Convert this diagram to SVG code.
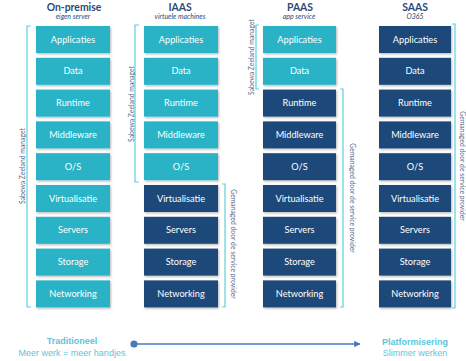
<svg xmlns="http://www.w3.org/2000/svg" width="466" height="361" viewBox="0 0 466 361">
<defs>
<filter id="sh" x="-20%" y="-30%" width="140%" height="160%">
<feDropShadow dx="1" dy="1.2" stdDeviation="1.3" flood-color="#000" flood-opacity="0.28"/>
</filter>
<marker id="arr" viewBox="0 0 10 10" refX="9" refY="5" markerWidth="4" markerHeight="4" orient="auto" markerUnits="strokeWidth">
<path d="M0,0 L10,5 L0,10 z" fill="#4a78bc"/>
</marker>
</defs>
<style>
.t rect{fill:#29b3c6;filter:url(#sh)}
.n rect{fill:#1f4879;filter:url(#sh)}
.lbl{font-family:Lato,"Open Sans",sans-serif;font-size:9.2px;fill:#fff;text-anchor:middle}
.h{font-family:Lato,"Open Sans",sans-serif;font-size:10.4px;font-weight:bold;fill:#2c4a78;text-anchor:middle}
.s{font-family:Lato,"Open Sans",sans-serif;font-size:7px;font-style:italic;fill:#2c4a78;text-anchor:middle}
.br{fill:none;stroke:#5fd0dc;stroke-width:1.2}
.bt{font-family:Lato,"Open Sans",sans-serif;font-size:6.8px;fill:#55698a;text-anchor:middle}
.bot{font-family:"Liberation Sans",Arial,sans-serif;font-size:9px;fill:#5cc6d6;text-anchor:middle}
.botb{font-family:"Liberation Sans",Arial,sans-serif;font-size:9px;font-weight:bold;fill:#5cc6d6;text-anchor:middle}
</style>
<rect width="466" height="361" fill="#fff"/>

<g id="headers">
<text class="h" x="74" y="11">On-premise</text>
<text class="s" x="73" y="19">eigen server</text>
<text class="h" x="180" y="11">IAAS</text>
<text class="s" x="180" y="19">virtuele machines</text>
<text class="h" x="300" y="11">PAAS</text>
<text class="s" x="299" y="19">app service</text>
<text class="h" x="415" y="11">SAAS</text>
<text class="s" x="415" y="19">O365</text>
</g>

<g id="col1" class="t">
<g id="c1-applicaties"><rect x="36" y="26" width="74" height="27"/><text class="lbl" x="73" y="42.5">Applicaties</text></g>
<g id="c1-data"><rect x="36" y="57.8" width="74" height="27"/><text class="lbl" x="73" y="74.3">Data</text></g>
<g id="c1-runtime"><rect x="36" y="89.6" width="74" height="27"/><text class="lbl" x="73" y="106.1">Runtime</text></g>
<g id="c1-middleware"><rect x="36" y="121.4" width="74" height="27"/><text class="lbl" x="73" y="137.9">Middleware</text></g>
<g id="c1-os"><rect x="36" y="153.2" width="74" height="27"/><text class="lbl" x="73" y="169.7">O/S</text></g>
<g id="c1-virtualisatie"><rect x="36" y="185" width="74" height="27"/><text class="lbl" x="73" y="201.5">Virtualisatie</text></g>
<g id="c1-servers"><rect x="36" y="216.8" width="74" height="27"/><text class="lbl" x="73" y="233.3">Servers</text></g>
<g id="c1-storage"><rect x="36" y="248.6" width="74" height="27"/><text class="lbl" x="73" y="265.1">Storage</text></g>
<g id="c1-networking"><rect x="36" y="280.4" width="74" height="27"/><text class="lbl" x="73" y="296.9">Networking</text></g>
</g>

<g id="col2">
<g id="c2-applicaties" class="t"><rect x="144" y="26" width="74" height="27"/><text class="lbl" x="181" y="42.5">Applicaties</text></g>
<g id="c2-data" class="t"><rect x="144" y="57.8" width="74" height="27"/><text class="lbl" x="181" y="74.3">Data</text></g>
<g id="c2-runtime" class="t"><rect x="144" y="89.6" width="74" height="27"/><text class="lbl" x="181" y="106.1">Runtime</text></g>
<g id="c2-middleware" class="t"><rect x="144" y="121.4" width="74" height="27"/><text class="lbl" x="181" y="137.9">Middleware</text></g>
<g id="c2-os" class="t"><rect x="144" y="153.2" width="74" height="27"/><text class="lbl" x="181" y="169.7">O/S</text></g>
<g id="c2-virtualisatie" class="n"><rect x="144" y="185" width="74" height="27"/><text class="lbl" x="181" y="201.5">Virtualisatie</text></g>
<g id="c2-servers" class="n"><rect x="144" y="216.8" width="74" height="27"/><text class="lbl" x="181" y="233.3">Servers</text></g>
<g id="c2-storage" class="n"><rect x="144" y="248.6" width="74" height="27"/><text class="lbl" x="181" y="265.1">Storage</text></g>
<g id="c2-networking" class="n"><rect x="144" y="280.4" width="74" height="27"/><text class="lbl" x="181" y="296.9">Networking</text></g>
</g>

<g id="col3">
<g id="c3-applicaties" class="t"><rect x="263" y="26" width="73" height="27"/><text class="lbl" x="299.5" y="42.5">Applicaties</text></g>
<g id="c3-data" class="t"><rect x="263" y="57.8" width="73" height="27"/><text class="lbl" x="299.5" y="74.3">Data</text></g>
<g id="c3-runtime" class="n"><rect x="263" y="89.6" width="73" height="27"/><text class="lbl" x="299.5" y="106.1">Runtime</text></g>
<g id="c3-middleware" class="n"><rect x="263" y="121.4" width="73" height="27"/><text class="lbl" x="299.5" y="137.9">Middleware</text></g>
<g id="c3-os" class="n"><rect x="263" y="153.2" width="73" height="27"/><text class="lbl" x="299.5" y="169.7">O/S</text></g>
<g id="c3-virtualisatie" class="n"><rect x="263" y="185" width="73" height="27"/><text class="lbl" x="299.5" y="201.5">Virtualisatie</text></g>
<g id="c3-servers" class="n"><rect x="263" y="216.8" width="73" height="27"/><text class="lbl" x="299.5" y="233.3">Servers</text></g>
<g id="c3-storage" class="n"><rect x="263" y="248.6" width="73" height="27"/><text class="lbl" x="299.5" y="265.1">Storage</text></g>
<g id="c3-networking" class="n"><rect x="263" y="280.4" width="73" height="27"/><text class="lbl" x="299.5" y="296.9">Networking</text></g>
</g>

<g id="col4" class="n">
<g id="c4-applicaties"><rect x="379" y="26" width="72" height="27"/><text class="lbl" x="415" y="42.5">Applicaties</text></g>
<g id="c4-data"><rect x="379" y="57.8" width="72" height="27"/><text class="lbl" x="415" y="74.3">Data</text></g>
<g id="c4-runtime"><rect x="379" y="89.6" width="72" height="27"/><text class="lbl" x="415" y="106.1">Runtime</text></g>
<g id="c4-middleware"><rect x="379" y="121.4" width="72" height="27"/><text class="lbl" x="415" y="137.9">Middleware</text></g>
<g id="c4-os"><rect x="379" y="153.2" width="72" height="27"/><text class="lbl" x="415" y="169.7">O/S</text></g>
<g id="c4-virtualisatie"><rect x="379" y="185" width="72" height="27"/><text class="lbl" x="415" y="201.5">Virtualisatie</text></g>
<g id="c4-servers"><rect x="379" y="216.8" width="72" height="27"/><text class="lbl" x="415" y="233.3">Servers</text></g>
<g id="c4-storage"><rect x="379" y="248.6" width="72" height="27"/><text class="lbl" x="415" y="265.1">Storage</text></g>
<g id="c4-networking"><rect x="379" y="280.4" width="72" height="27"/><text class="lbl" x="415" y="296.9">Networking</text></g>
</g>

<g id="brackets">
<path class="br" d="M31,26 H27 V307 H31"/>
<text class="bt" transform="translate(24.5,166) rotate(-90)">Sabewa Zeeland managet</text>
<path class="br" d="M139,25 H135 V182 H139"/>
<text class="bt" transform="translate(133.5,104) rotate(-90)">Sabewa Zeeland managet</text>
<path class="br" d="M222,184 H225 V307 H222"/>
<text class="bt" transform="translate(230.5,244) rotate(90)">Gemanaged door de service provider</text>
<path class="br" d="M259,25 H256 V89 H259"/>
<text class="bt" transform="translate(253.5,57) rotate(-90)">Sabewa Zeeland managet</text>
<path class="br" d="M340,89 H343 V307 H340"/>
<text class="bt" transform="translate(349.5,198) rotate(90)">Gemanaged door de service provider</text>
<path class="br" d="M452,24 H455 V308 H452"/>
<text class="bt" transform="translate(459.5,166) rotate(90)">Gemanaged door de service provider</text>
</g>

<g id="connectors">
<line x1="134" y1="344" x2="360" y2="344" stroke="#4a78bc" stroke-width="1.6" marker-end="url(#arr)"/>
<circle cx="134" cy="344" r="3.6" fill="#4a78bc"/>
</g>

<g id="bottom">
<text class="botb" x="72" y="344">Traditioneel</text>
<text class="bot" x="72" y="356">Meer werk = meer handjes</text>
<text class="botb" x="415" y="345">Platformisering</text>
<text class="bot" x="415" y="356">Slimmer werken</text>
</g>
</svg>
